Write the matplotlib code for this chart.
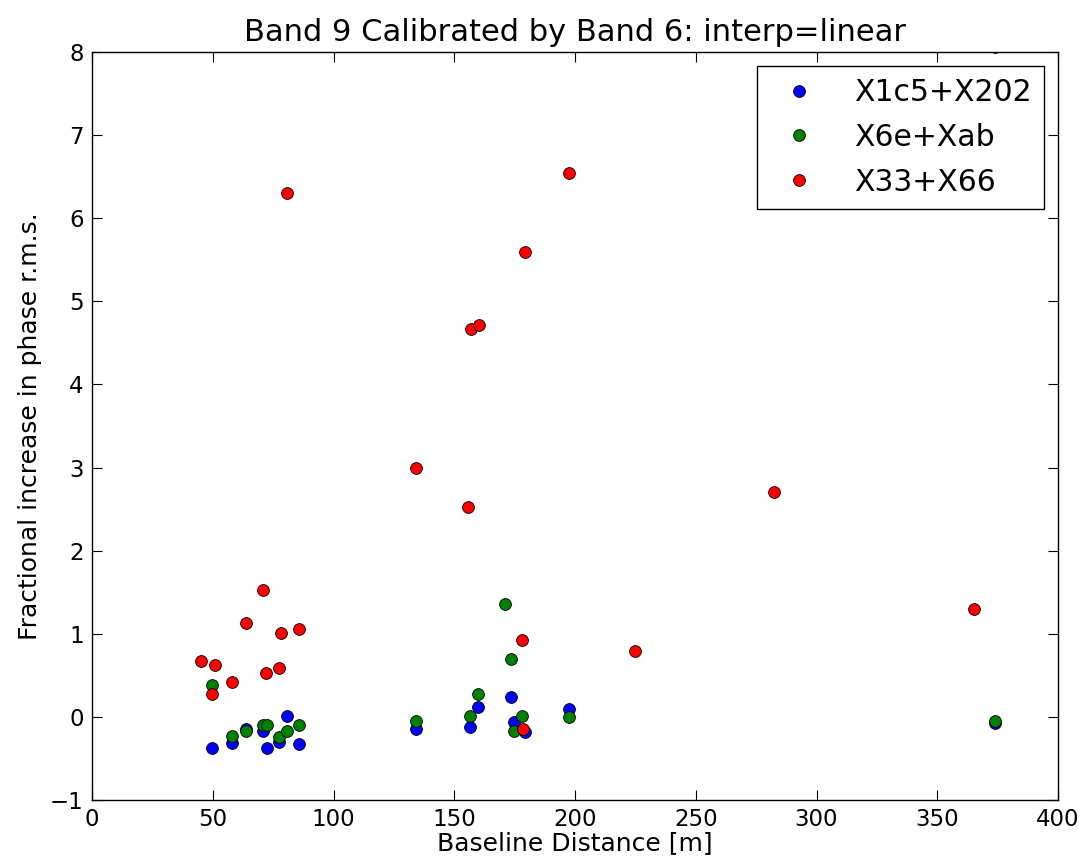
import numpy as np
import matplotlib
matplotlib.use("Agg")
import matplotlib.pyplot as plt

# Baseline distance [m] and fractional increase in phase rms, per pair
blue_x = [49.6, 57.8, 63.8, 70.9, 72.3, 77.3, 80.6, 85.8, 134.2, 156.7, 160.0, 173.6, 174.9, 179.3, 197.5, 373.9]
blue_y = [-0.37, -0.31, -0.14, -0.165, -0.37, -0.30, 0.01, -0.33, -0.15, -0.12, 0.12, 0.24, -0.064, -0.18, 0.10, -0.07]

green_x = [49.6, 57.8, 63.8, 71.0, 72.5, 77.3, 80.6, 85.8, 134.2, 156.7, 160.0, 171.0, 173.6, 174.9, 178.2, 197.5, 373.9]
green_y = [0.385, -0.23, -0.165, -0.10, -0.10, -0.24, -0.165, -0.10, -0.05, 0.01, 0.27, 1.36, 0.70, -0.17, 0.01, 0.00, -0.05]

red_x = [45.0, 49.6, 50.9, 58.0, 63.8, 70.9, 72.0, 77.3, 78.1, 80.6, 85.8, 134.2, 155.5, 156.9, 160.2,
         178.2, 178.6, 179.5, 197.6, 224.7, 282.2, 365.1, 373.9]
red_y = [0.67, 0.27, 0.63, 0.42, 1.13, 1.53, 0.53, 0.59, 1.01, 6.30, 1.06, 2.99, 2.53, 4.67, 4.71,
         0.93, -0.145, 5.59, 6.54, 0.79, 2.71, 1.30, 8.06]

labels = ['X1c5+X202', 'X6e+Xab', 'X33+X66']

fig = plt.figure(figsize=(10.88, 8.65), dpi=100)
ax = fig.add_axes([92/1088, 1 - 800/865, (1058-92)/1088, (800-52)/865])

ms = 8.5
ax.plot(blue_x, blue_y, 'o', color='#0000ff', mec='black', mew=0.6, ms=ms, label=labels[0])
ax.plot(green_x, green_y, 'o', color='#008000', mec='black', mew=0.6, ms=ms, label=labels[1])
ax.plot(red_x, red_y, 'o', color='#ff0000', mec='black', mew=0.6, ms=ms, label=labels[2])

ax.set_xlim(0, 400)
ax.set_ylim(-1, 8)
ax.set_xticks(np.arange(0, 401, 50))
ax.set_yticks(np.arange(-1, 9, 1))
ax.tick_params(direction='in', top=True, right=True, length=7, labelsize=16.5, pad=6)
for s in ax.spines.values():
    s.set_linewidth(1.0)

ax.set_xlabel('Baseline Distance [m]', fontsize=18, labelpad=0)
ax.set_ylabel('Fractional increase in phase r.m.s.', fontsize=18, labelpad=6)
ax.set_title('Band 9 Calibrated by Band 6: interp=linear', fontsize=22, pad=8)

leg = ax.legend(loc='upper right', numpoints=1, fontsize=21.5, fancybox=False,
                handlelength=2.0, handletextpad=0.85, borderaxespad=0.47,
                labelspacing=0.53, framealpha=1)
leg.get_frame().set_edgecolor('black')
leg.get_frame().set_linewidth(1.0)

fig.savefig('out.png', dpi=100, facecolor='white')
